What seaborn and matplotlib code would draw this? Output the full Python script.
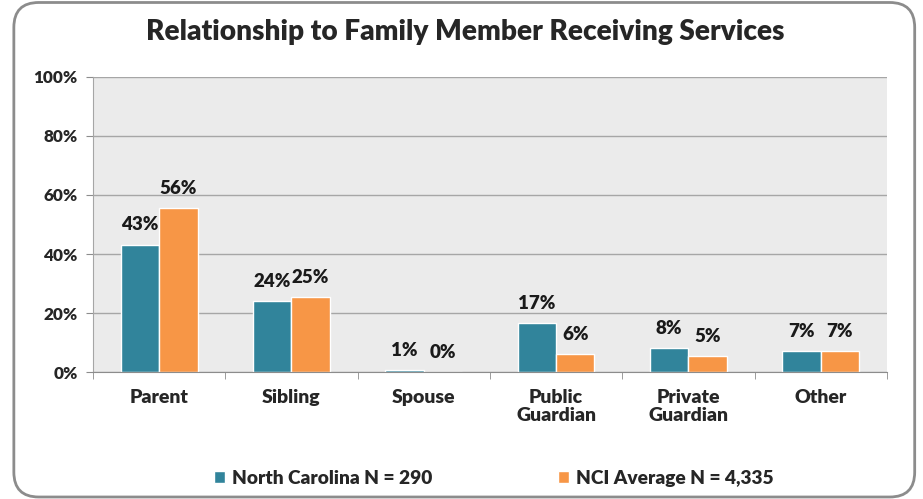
import numpy as np
import pandas as pd
import seaborn as sns
import matplotlib.pyplot as plt
from matplotlib.patches import FancyBboxPatch

# data
categories = ['Parent', 'Sibling', 'Spouse', 'Public\nGuardian', 'Private\nGuardian', 'Other']
nc_values = [43.2, 24.1, 0.7, 16.6, 8.1, 7.1]
nci_values = [55.6, 25.4, 0.0, 6.1, 5.4, 7.1]
nc_labels = ['43%', '24%', '1%', '17%', '8%', '7%']
nci_labels = ['56%', '25%', '0%', '6%', '5%', '7%']
series = ['North Carolina N = 290', 'NCI Average N = 4,335']
y_ticks = [0, 20, 40, 60, 80, 100]

df = pd.DataFrame({
    'category': categories * 2,
    'value': nc_values + nci_values,
    'series': [series[0]] * len(categories) + [series[1]] * len(categories),
})

sns.set_style("white")
plt.rcParams['font.family'] = ['Lato', 'DejaVu Sans']
plt.rcParams['font.weight'] = 'heavy'
W = 'heavy'

fig = plt.figure(figsize=(9.23, 4.99), dpi=100)
ax = fig.add_axes([0.1008, 0.2545, 0.8600, 0.5912])

palette = {series[0]: '#31849B', series[1]: '#F79646'}
sns.barplot(ax=ax, data=df, x='category', y='value', hue='series', palette=palette,
            width=0.58, gap=0, saturation=1, legend=True)

ax.set_facecolor('#EBEBEB')
ax.set_ylim(0, 100)
ax.set_xlim(-0.5, len(categories) - 0.5)
ax.set_yticks(y_ticks)
ax.set_yticklabels([f'{t}%' for t in y_ticks], fontsize=12.3, fontweight=W)
ax.yaxis.grid(True, color='#A6A6A6', linewidth=1)
ax.set_axisbelow(True)
ax.tick_params(axis='y', length=5, color='#8C8C8C', direction='out', pad=6, left=True)
ax.set_xticks(range(len(categories)))
ax.set_xticklabels(categories, fontsize=14, fontweight=W, linespacing=1.1)
ax.tick_params(axis='x', length=0, pad=12)
ax.set_xticks(np.arange(-0.5, len(categories)), minor=True)
ax.tick_params(axis='x', which='minor', length=5, color='#8C8C8C', direction='out', bottom=True)
ax.set_xlabel('')
ax.set_ylabel('')
for side in ['top', 'right']:
    ax.spines[side].set_visible(False)
ax.spines['left'].set_color('#A6A6A6')
ax.spines['bottom'].set_color('#8C8C8C')

for container, labels in zip(ax.containers, [nc_labels, nci_labels]):
    ax.bar_label(container, labels=labels, padding=8, fontsize=13.5, fontweight=W, color='#1A1A1A')

handles, lbls = ax.get_legend_handles_labels()
ax.get_legend().remove()
fig.legend(handles, lbls, loc='center', bbox_to_anchor=(0.535, 0.042), ncol=2, frameon=False,
           columnspacing=6.6, handlelength=0.55, handleheight=0.55, handletextpad=0.35,
           prop={'weight': W, 'size': 13.8})

fig.text(0.504, 0.935, 'Relationship to Family Member Receiving Services', ha='center', va='center',
         fontsize=20.2, fontweight=W)

# rounded frame around the chart
frame = FancyBboxPatch((0.015, 0.004), 0.976, 0.991, transform=fig.transFigure,
                       boxstyle='round,pad=0,rounding_size=0.027', facecolor='none',
                       edgecolor='#8C8C8C', linewidth=2, mutation_aspect=923 / 499)
fig.patches.append(frame)

fig.savefig('out.png', dpi=100)
